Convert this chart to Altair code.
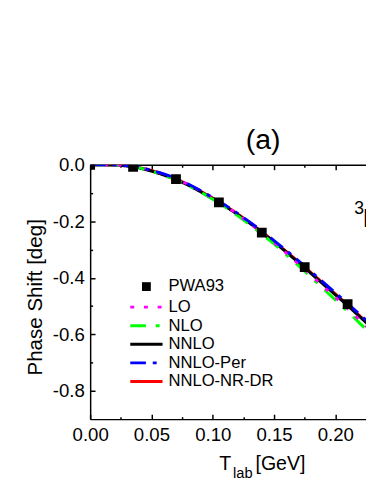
import altair as alt
import pandas as pd

# ---------------- data ----------------
T_CURVE = [0.00, 0.01, 0.02, 0.03, 0.04, 0.05, 0.06, 0.07, 0.08, 0.09, 0.10, 0.11,
           0.12, 0.13, 0.14, 0.15, 0.16, 0.17, 0.18, 0.19, 0.20, 0.21, 0.22, 0.23]
LO = [0.0, 0.0, 0.0, -0.003, -0.009, -0.019, -0.033, -0.049, -0.069, -0.092, -0.117, -0.144,
      -0.174, -0.206, -0.240, -0.275, -0.313, -0.351, -0.390, -0.430, -0.469, -0.509, -0.550, -0.591]
NLO = [0.0, 0.0, -0.001, -0.004, -0.011, -0.022, -0.036, -0.053, -0.073, -0.096, -0.122, -0.149,
       -0.179, -0.211, -0.245, -0.280, -0.318, -0.357, -0.397, -0.438, -0.478, -0.519, -0.561, -0.603]
NNLO = [0.0, 0.0, -0.001, -0.004, -0.011, -0.022, -0.036, -0.052, -0.072, -0.095, -0.120, -0.146,
        -0.175, -0.206, -0.239, -0.273, -0.309, -0.346, -0.384, -0.422, -0.460, -0.498, -0.538, -0.578]
NNLO_PER = [0.0, 0.0, 0.0, -0.003, -0.009, -0.019, -0.032, -0.048, -0.068, -0.091, -0.116, -0.142,
            -0.171, -0.202, -0.234, -0.268, -0.303, -0.340, -0.377, -0.415, -0.453, -0.491, -0.530, -0.569]
NNLO_NR_DR = [0.0, 0.0, 0.0, -0.003, -0.010, -0.020, -0.034, -0.050, -0.070, -0.093, -0.118, -0.144,
              -0.173, -0.204, -0.237, -0.271, -0.307, -0.343, -0.381, -0.419, -0.457, -0.495, -0.535, -0.575]

PWA_T = [0.0, 0.035, 0.070, 0.105, 0.140, 0.175, 0.210]
PWA_D = [0.0, -0.007, -0.051, -0.133, -0.240, -0.362, -0.493]

SERIES = ["PWA93", "LO", "NLO", "NNLO", "NNLO-Per", "NNLO-NR-DR"]
COLORS = ["#000000", "#FF00FF", "#00FF00", "#000000", "#0000FF", "#FF0000"]
DASHES = [[0, 100], [4, 10], [16, 10, 4, 10], [1, 0], [16, 7, 4, 7], [1, 0]]
DRAW_ORDER = ["NNLO-NR-DR", "NNLO", "NLO", "LO", "NNLO-Per"]

X_TICKS = [0.0, 0.025, 0.05, 0.075, 0.10, 0.125, 0.15, 0.175, 0.20]
Y_TICKS = [0.0, -0.1, -0.2, -0.3, -0.4, -0.5, -0.6, -0.7, -0.8]
X_DOMAIN = [0.0, 0.225]
Y_DOMAIN = [-0.9, 0.0]

PANEL_LABEL = ["(a)"]
WAVE_SUP = ["3"]
WAVE_MAIN = ["F"]
X_TITLE = ["T", "lab", "[GeV]"]
Y_TITLE = "Phase Shift [deg]"

FONT = "Liberation Sans"

# ---------------- tables ----------------
curve_values = {"LO": LO, "NLO": NLO, "NNLO": NNLO, "NNLO-Per": NNLO_PER, "NNLO-NR-DR": NNLO_NR_DR}
rows = []
for name, vals in curve_values.items():
    for t, v in zip(T_CURVE, vals):
        rows.append({"T": t, "delta": v, "series": name})
curves = pd.DataFrame(rows)
pwa = pd.DataFrame({"T": PWA_T, "delta": PWA_D, "series": ["PWA93"] * len(PWA_T)})

# ---------------- scales / axes ----------------
xscale = alt.Scale(domain=X_DOMAIN, nice=False, zero=False)
yscale = alt.Scale(domain=Y_DOMAIN, nice=False, zero=False)

x_major = "abs(datum.value*20 - round(datum.value*20)) < 0.001"
y_major = "abs(datum.value*5 - round(datum.value*5)) < 0.001"

common_axis = dict(
    grid=False, domainColor="black", domainWidth=1.5, tickColor="black", tickWidth=1.5,
    labelFont=FONT, labelFontSize=19, labelColor="black",
)

x_axis_bottom = alt.Axis(
    values=X_TICKS, title=None,
    labelExpr=f"{x_major} ? format(datum.value, '.2f') : ''",
    tickSize=alt.ExprRef(f"{x_major} ? -5 : -2.5"),
    labelPadding=12, labelOverlap=False, labelFlush=False,
    **common_axis,
)
x_axis_top = alt.Axis(
    orient="top", values=X_TICKS, title=None, labels=False,
    tickSize=alt.ExprRef(f"{x_major} ? -5 : -2.5"),
    **common_axis,
)
y_axis = alt.Axis(
    values=Y_TICKS,
    labelExpr=f"{y_major} ? replace(format(datum.value, '.1f'), '\u2212', '-') : ''",
    tickSize=alt.ExprRef(f"{y_major} ? -5 : -2.5"),
    labelPadding=11, labelOverlap=False, labelFlush=False,
    title=Y_TITLE, titleFont=FONT, titleFontSize=21, titleFontWeight="normal", titleColor="black",
    titleAngle=270, titleX=-56, titleY=135, titleAlign="center", titleBaseline="middle",
    **common_axis,
)

legend = alt.Legend(
    title=None, orient="none", legendX=49, legendY=116,
    labelFont=FONT, labelFontSize=17, labelColor="black", labelOffset=14,
    symbolSize=100, symbolStrokeWidth=3,
    symbolType=alt.ExprRef(
        "datum.value == 'PWA93' ? 'M-0.9,-0.9H0.9V0.9H-0.9Z' : 'M-3.3,0H3.3'"),
    symbolFillColor=alt.ExprRef("datum.value == 'PWA93' ? 'black' : 'transparent'"),
    rowPadding=1, padding=0,
)

color_enc = alt.Color("series:N", scale=alt.Scale(domain=SERIES, range=COLORS), legend=legend)
dash_enc = alt.StrokeDash("series:N", scale=alt.Scale(domain=SERIES, range=DASHES), legend=legend)

layers = []
for i, name in enumerate(DRAW_ORDER):
    ax = x_axis_bottom if i == 0 else None
    layers.append(
        alt.Chart(curves).transform_filter(alt.datum.series == name)
        .mark_line(strokeWidth=3, clip=True)
        .encode(
            x=alt.X("T:Q", scale=xscale, axis=ax),
            y=alt.Y("delta:Q", scale=yscale, axis=y_axis),
            color=color_enc,
            strokeDash=dash_enc,
            order="T:Q",
        )
    )

points = alt.Chart(pwa).mark_square(size=100, opacity=1, filled=True, clip=True).encode(
    x=alt.X("T:Q", scale=xscale, axis=None),
    y=alt.Y("delta:Q", scale=yscale, axis=y_axis),
    color=color_enc,
)

top_axis_layer = alt.Chart(pwa).mark_point(opacity=0).encode(
    x=alt.X("T:Q", scale=xscale, axis=x_axis_top),
    y=alt.Y("delta:Q", scale=yscale, axis=y_axis),
)

def text_layer(txt, x, y, size, clip=False):
    return alt.Chart(pd.DataFrame({"t": txt})).mark_text(
        font=FONT, fontSize=size, color="black", align="left", baseline="alphabetic", clip=clip
    ).encode(x=alt.value(x), y=alt.value(y), text="t:N")

panel = text_layer(PANEL_LABEL, 159, -16, 29)
sup = text_layer(WAVE_SUP, 270, 50, 18, clip=True)
main = text_layer(WAVE_MAIN, 278.6, 63.7, 26, clip=True)
xt1 = text_layer([X_TITLE[0]], 132, 312, 20)
xt2 = text_layer([X_TITLE[1]], 146, 320, 15)
xt3 = text_layer([X_TITLE[2]], 169, 312, 20)

chart = (
    alt.layer(*layers, points, top_axis_layer, panel, sup, main, xt1, xt2, xt3)
    .resolve_axis(x="independent")
    .properties(
        width=282, height=260,
        autosize=alt.AutoSizeParams(type="none"),
        padding={"left": 84, "top": 155, "right": 0, "bottom": 61},
        background="white",
    )
    .configure_view(stroke=None)
)

chart.save("out.html", embed_options={"renderer": "svg", "actions": False})
